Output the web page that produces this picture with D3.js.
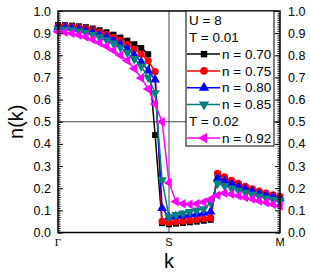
<!DOCTYPE html>
<html>
<head>
<meta charset="utf-8">
<script src="https://cdn.jsdelivr.net/npm/d3@7"></script>
<style>
  body { margin: 0; background: #fff; }
  text { font-family: "Liberation Sans", Arial, sans-serif; }
</style>
</head>
<body>
<script>
// k index along Γ -> S -> M (33 points, S at index 16)
var kIndex = d3.range(33);
var kTicks = [0, 16, 32];
var kLabels = ["Γ", "S", "M"];
var yTicks = [0, 0.1, 0.2, 0.3, 0.4, 0.5, 0.6, 0.7, 0.8, 0.9, 1.0];

var n070 = [0.937, 0.936, 0.934, 0.931, 0.927, 0.921, 0.913, 0.904, 0.893, 0.880, 0.866, 0.850, 0.833, 0.805, 0.440,
            0.042, 0.037, 0.040, 0.043, 0.046, 0.049, 0.053, 0.057, 0.262, 0.246, 0.231, 0.217, 0.204, 0.193, 0.183, 0.174, 0.166, 0.159];
var n075 = [0.932, 0.931, 0.929, 0.926, 0.921, 0.914, 0.905, 0.894, 0.881, 0.866, 0.848, 0.828, 0.805, 0.775, 0.726,
            0.050, 0.045, 0.048, 0.051, 0.054, 0.058, 0.062, 0.066, 0.267, 0.251, 0.236, 0.222, 0.209, 0.197, 0.187, 0.178, 0.170, 0.163];
var n080 = [0.926, 0.925, 0.922, 0.918, 0.912, 0.904, 0.894, 0.882, 0.867, 0.850, 0.828, 0.801, 0.770, 0.730, 0.690,
            0.110, 0.070, 0.073, 0.076, 0.080, 0.084, 0.088, 0.094, 0.245, 0.232, 0.220, 0.208, 0.196, 0.186, 0.176, 0.168, 0.160, 0.153];
var n085 = [0.918, 0.917, 0.914, 0.909, 0.902, 0.893, 0.882, 0.869, 0.854, 0.836, 0.812, 0.784, 0.750, 0.700, 0.630,
            0.237, 0.070, 0.080, 0.087, 0.094, 0.100, 0.106, 0.135, 0.222, 0.211, 0.200, 0.190, 0.180, 0.171, 0.163, 0.155, 0.148, 0.142];
var n092 = [0.906, 0.904, 0.899, 0.892, 0.883, 0.871, 0.857, 0.841, 0.822, 0.800, 0.776, 0.740, 0.698, 0.648, 0.580,
            0.500, 0.225, 0.140, 0.130, 0.127, 0.130, 0.137, 0.150, 0.168, 0.178, 0.173, 0.166, 0.158, 0.151, 0.143, 0.135, 0.127, 0.120];

var series = [
    { name: "n = 0.70", values: n070, color: "#000000", symbol: d3.symbolSquare, rot: 0, size: 36 },
    { name: "n = 0.75", values: n075, color: "#ff0000", symbol: d3.symbolCircle, rot: 0, size: 40 },
    { name: "n = 0.80", values: n080, color: "#0000ff", symbol: d3.symbolTriangle, rot: 0, size: 40 },
    { name: "n = 0.85", values: n085, color: "#008080", symbol: d3.symbolTriangle, rot: 180, size: 40 },
    { name: "n = 0.92", values: n092, color: "#ff00ff", symbol: d3.symbolTriangle, rot: -90, size: 40 }
];

const W = 310, H = 273;
const pLeft = 58, pRight = 280, pTop = 11, pBottom = 232.5;

var x = d3.scaleLinear().domain([0, 32]).range([pLeft, pRight]);
var y = d3.scaleLinear().domain([0, 1]).range([pBottom, pTop]);

var svg = d3.select("body")
    .append("svg")
    .attr("width", W)
    .attr("height", H);

// reference lines
svg.append("line")
    .attr("x1", x(16)).attr("x2", x(16))
    .attr("y1", pTop).attr("y2", pBottom)
    .attr("stroke", "#444").attr("stroke-width", 1);
svg.append("line")
    .attr("x1", pLeft).attr("x2", pRight)
    .attr("y1", y(0.5)).attr("y2", y(0.5))
    .attr("stroke", "#444").attr("stroke-width", 1);

// data
var line = d3.line()
    .x(function(d, i) { return x(kIndex[i]); })
    .y(function(d) { return y(d); });

series.forEach(function(s) {
    var g = svg.append("g");
    g.append("path")
        .attr("d", line(s.values))
        .attr("fill", "none")
        .attr("stroke", s.color)
        .attr("stroke-width", 1.5);
    g.selectAll("path.m")
        .data(s.values)
        .enter()
        .append("path")
        .attr("class", "m")
        .attr("d", d3.symbol().type(s.symbol).size(s.size))
        .attr("transform", function(d, i) {
            return "translate(" + x(kIndex[i]) + "," + y(d) + ") rotate(" + s.rot + ")";
        })
        .attr("fill", s.color);
});

// y axes
var yMinor = d3.range(0, 1.0001, 0.01);
var axL = d3.axisLeft(y).tickValues(yMinor).tickSize(-2.5).tickFormat("");
var axR = d3.axisRight(y).tickValues(yMinor).tickSize(-2.5).tickFormat("");
svg.append("g").attr("transform", "translate(" + pLeft + ",0)").call(axL);
svg.append("g").attr("transform", "translate(" + pRight + ",0)").call(axR);

var majL = d3.axisLeft(y).tickValues(yTicks).tickSize(-5).tickPadding(7).tickFormat(d3.format(".1f"));
var majR = d3.axisRight(y).tickValues(yTicks).tickSize(-5).tickPadding(8).tickFormat(d3.format(".1f"));
svg.append("g").attr("class", "maj").attr("transform", "translate(" + pLeft + ",0)").call(majL);
svg.append("g").attr("class", "maj").attr("transform", "translate(" + pRight + ",0)").call(majR);

svg.selectAll(".domain").remove();
svg.selectAll(".tick line").attr("stroke", "#000").attr("stroke-width", 1);
svg.selectAll(".maj text")
    .attr("font-size", "12.5px")
    .attr("font-family", "'Liberation Sans', Arial, sans-serif")
    .attr("fill", "#000");

// x tick labels
svg.selectAll("text.kl")
    .data(kTicks)
    .enter()
    .append("text")
    .attr("class", "kl")
    .attr("x", function(d) { return x(d); })
    .attr("y", 246)
    .attr("text-anchor", "middle")
    .attr("font-size", "11px")
    .style("font-family", function(d, i) { return i == 0 ? "'Liberation Serif', 'Times New Roman', serif" : "'Liberation Sans', Arial, sans-serif"; })
    .text(function(d, i) { return kLabels[i]; });

// frame
svg.append("rect")
    .attr("x", pLeft).attr("y", pTop)
    .attr("width", pRight - pLeft).attr("height", pBottom - pTop)
    .attr("fill", "none")
    .attr("stroke", "#000")
    .attr("stroke-width", 1.5);

// axis titles
svg.append("text")
    .attr("transform", "translate(23," + y(0.5) + ") rotate(-90)")
    .attr("text-anchor", "middle")
    .attr("font-size", "20px")
    .text("n(k)");
svg.append("text")
    .attr("x", x(16))
    .attr("y", 268)
    .attr("text-anchor", "middle")
    .attr("font-size", "20px")
    .text("k");

// legend
var lg = svg.append("g");
lg.append("rect")
    .attr("x", 186).attr("y", pTop)
    .attr("width", 88).attr("height", 135)
    .attr("fill", "#fff")
    .attr("stroke", "#000")
    .attr("stroke-width", 1);

var rowY = function(r) { return 20.5 + r * 16.8; };
var rows = [
    { label: "U = 8" },
    { label: "T = 0.01" },
    { s: series[0] },
    { s: series[1] },
    { s: series[2] },
    { s: series[3] },
    { label: "T = 0.02" },
    { s: series[4] }
];
rows.forEach(function(r, i) {
    var cy = rowY(i);
    if (r.s) {
        lg.append("line")
            .attr("x1", 187).attr("x2", 220)
            .attr("y1", cy).attr("y2", cy)
            .attr("stroke", r.s.color).attr("stroke-width", 1.5);
        lg.append("path")
            .attr("d", d3.symbol().type(r.s.symbol).size(r.s.size + 6))
            .attr("transform", "translate(204," + cy + ") rotate(" + r.s.rot + ")")
            .attr("fill", r.s.color);
        lg.append("text")
            .attr("x", 222).attr("y", cy + 4.7)
            .attr("font-size", "13.5px")
            .text(r.s.name);
    } else {
        lg.append("text")
            .attr("x", 189).attr("y", cy + 4.7)
            .attr("font-size", "13.5px")
            .text(r.label);
    }
});
</script>
</body>
</html>
